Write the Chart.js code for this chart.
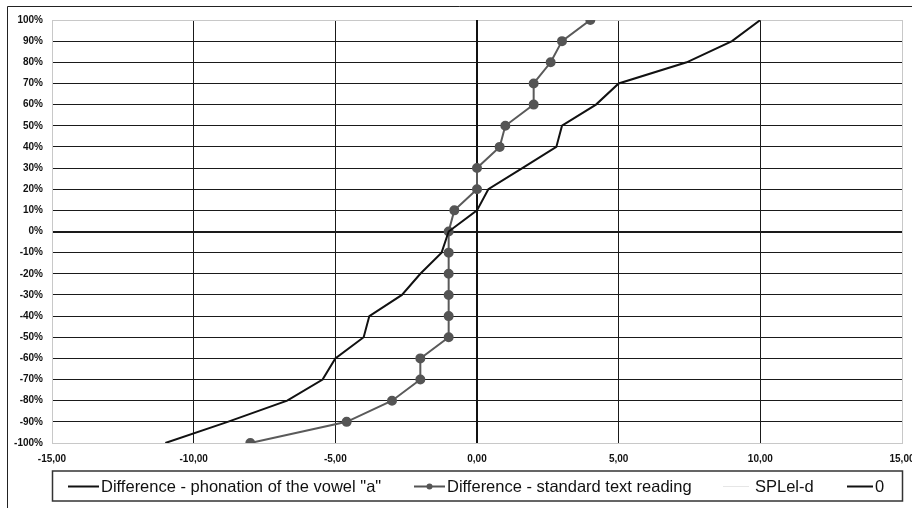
<!DOCTYPE html>
<html>
<head>
<meta charset="utf-8">
<script src="https://cdn.jsdelivr.net/npm/chart.js@4.4.1/dist/chart.umd.min.js"></script>
<style>
  html, body { margin: 0; padding: 0; background: #fff; }
  #wrap { width: 912px; height: 508px; position: relative; }
</style>
</head>
<body>
<div id="wrap"><canvas id="myChart" width="912" height="508"></canvas></div>
<script>
// percent levels (y) shared by both difference series
const levels = [-100, -90, -80, -70, -60, -50, -40, -30, -20, -10, 0, 10, 20, 30, 40, 50, 60, 70, 80, 90, 100];

// Difference - phonation of the vowel "a"
const phonation = [-11.0, -8.8, -6.7, -5.45, -5.0, -4.0, -3.8, -2.65, -2.0, -1.25, -1.0, 0.0, 0.4, 1.6, 2.8, 3.0, 4.2, 5.0, 7.4, 9.0, 10.0];

// Difference - standard text reading
const reading = [-8.0, -4.6, -3.0, -2.0, -2.0, -1.0, -1.0, -1.0, -1.0, -1.0, -1.0, -0.8, 0.0, 0.0, 0.8, 1.0, 2.0, 2.0, 2.6, 3.0, 4.0];

// zero reference line
const zeroX = [0, 0];
const zeroY = [-100, 100];

const seriesNames = ['Difference - phonation of the vowel "a"', 'Difference - standard text reading', 'SPLel-d', '0'];

const toPoints = (xs, ys) => xs.map((x, i) => ({ x: x, y: ys[i] }));

const FONT = '"Liberation Sans", Arial, sans-serif';

// frame + legend drawn by hand, Excel style
const excelLegend = {
    id: 'excelLegend',
    beforeDraw(chart) {
        const ctx = chart.ctx;
        ctx.save();
        ctx.strokeStyle = '#222';
        ctx.lineWidth = 1;
        ctx.beginPath();
        ctx.moveTo(7.5, 508);
        ctx.lineTo(7.5, 6.5);
        ctx.lineTo(912, 6.5);
        ctx.stroke();
        ctx.restore();
    },
    afterDraw(chart) {
        const ctx = chart.ctx;
        ctx.save();
        ctx.strokeStyle = '#333';
        ctx.lineWidth = 1.5;
        ctx.strokeRect(52.5, 471, 850, 30);

        const items = [
            { x0: 68, x1: 99, tx: 101, color: '#111', width: 2, dot: false },
            { x0: 414, x1: 445, tx: 447, color: '#555', width: 2, dot: true },
            { x0: 723, x1: 749, tx: 755, color: '#e6e6e6', width: 1, dot: false },
            { x0: 847, x1: 873, tx: 875, color: '#111', width: 2, dot: false }
        ];
        const yc = 486.5;
        ctx.font = '16.5px ' + FONT;
        ctx.textBaseline = 'middle';
        ctx.fillStyle = '#111';
        items.forEach((it, i) => {
            ctx.strokeStyle = it.color;
            ctx.lineWidth = it.width;
            ctx.beginPath();
            ctx.moveTo(it.x0, yc);
            ctx.lineTo(it.x1, yc);
            ctx.stroke();
            if (it.dot) {
                ctx.fillStyle = '#555';
                ctx.beginPath();
                ctx.arc((it.x0 + it.x1) / 2, yc, 3, 0, Math.PI * 2);
                ctx.fill();
                ctx.fillStyle = '#111';
            }
            ctx.fillText(seriesNames[i], it.tx, yc + 1);
        });
        ctx.restore();
    }
};

const edgeColor = (v, lo, hi) => (v === lo || v === hi) ? '#c8c8c8' : '#1a1a1a';

const chartContext = document.getElementById('myChart').getContext('2d');

const chart = new Chart(chartContext, {
    type: 'scatter',
    data: {
        datasets: [{
            label: seriesNames[0],
            data: toPoints(phonation, levels),
            showLine: true,
            borderColor: '#111',
            borderWidth: 2,
            pointRadius: 0,
            tension: 0
        }, {
            label: seriesNames[1],
            data: toPoints(reading, levels),
            showLine: true,
            borderColor: '#5a5a5a',
            borderWidth: 2,
            backgroundColor: '#555',
            pointBackgroundColor: '#555',
            pointBorderColor: '#555',
            pointRadius: 4,
            pointStyle: 'circle'
        }, {
            label: seriesNames[2],
            data: [],
            showLine: true,
            borderColor: '#e6e6e6',
            borderWidth: 1,
            pointRadius: 0
        }, {
            label: seriesNames[3],
            data: toPoints(zeroX, zeroY),
            showLine: true,
            borderColor: '#111',
            borderWidth: 2,
            pointRadius: 0
        }]
    },
    options: {
        responsive: false,
        animation: false,
        layout: {
            padding: { top: 20, right: 10, left: 0, bottom: 43 }
        },
        plugins: {
            legend: { display: false },
            tooltip: { enabled: false }
        },
        scales: {
            x: {
                type: 'linear',
                min: -15,
                max: 15,
                afterFit: (scale) => {
                    scale.height = 22;
                    scale.paddingLeft = 0;
                    scale.paddingRight = 0;
                },
                ticks: {
                    stepSize: 5,
                    padding: 10,
                    color: '#111',
                    font: { family: FONT, size: 10, weight: 'bold' },
                    callback: (v) => v.toFixed(2).replace('.', ',')
                },
                grid: {
                    drawTicks: false,
                    color: (c) => edgeColor(c.tick && c.tick.value, -15, 15),
                    lineWidth: 1
                },
                border: { display: true, color: '#c8c8c8', width: 1 }
            },
            y: {
                type: 'linear',
                min: -100,
                max: 100,
                afterFit: (scale) => {
                    scale.width = 52;
                    scale.paddingTop = 0;
                    scale.paddingBottom = 0;
                },
                ticks: {
                    stepSize: 10,
                    padding: 9,
                    color: '#111',
                    font: { family: FONT, size: 10, weight: 'bold' },
                    callback: (v) => v + '%'
                },
                grid: {
                    drawTicks: false,
                    color: (c) => edgeColor(c.tick && c.tick.value, -100, 100),
                    lineWidth: (c) => (c.tick && c.tick.value === 0) ? 2 : 1
                },
                border: { display: true, color: '#c8c8c8', width: 1 }
            }
        }
    },
    plugins: [excelLegend]
});
</script>
</body>
</html>
